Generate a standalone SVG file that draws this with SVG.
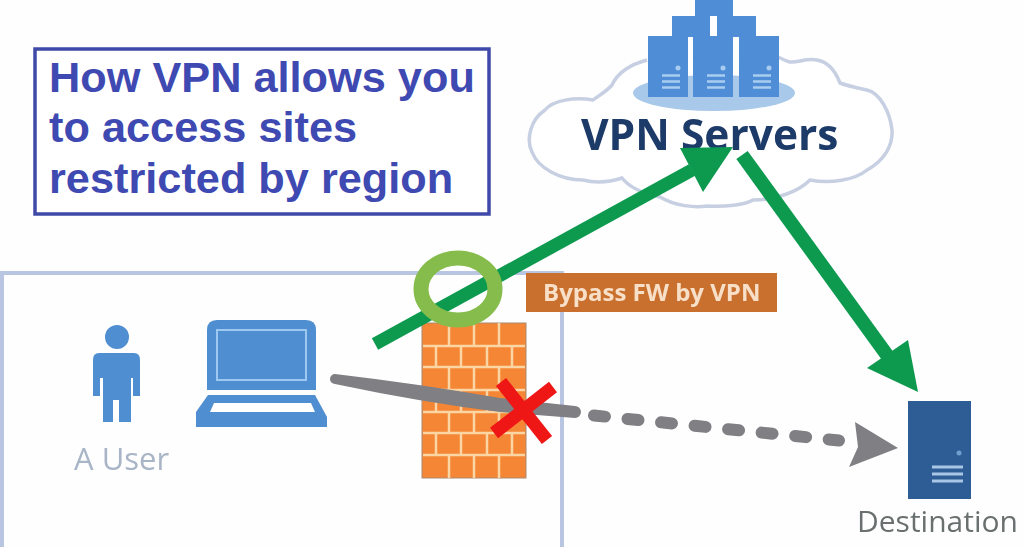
<svg xmlns="http://www.w3.org/2000/svg" width="1024" height="547" viewBox="0 0 1024 547">
<style>
.srv{fill:#4f8ed6}
.srvl{stroke:#a9cdf0;stroke-width:2.5;fill:none}
.srvd{fill:#a9cdf0}
.wall{stroke:#fbd6a4;stroke-width:2.5;fill:none}
.green{stroke:#0b9a50;fill:none}
.greenh{fill:#0b9a50}
.gray{stroke:#7f7f84;fill:none;stroke-linecap:round}
.oss{font-family:"Open Sans","Liberation Sans",sans-serif}
.title{font-family:"Liberation Sans",Arial,sans-serif;font-weight:700;font-size:43.300px;fill:#3f49b2}
.soft{filter:url(#soft)}
</style>
<defs>
<filter id="soft" filterUnits="userSpaceOnUse" x="0" y="0" width="1024" height="547"><feGaussianBlur stdDeviation="0.7"/></filter>
<g id="server">
<rect x="0" y="0" width="40" height="61" class="srv"/>
<circle cx="30" cy="32" r="2.5" class="srvd"/>
<path d="M14 39.500H32M14 45.500H32M14 51.500H32" class="srvl"/>
</g>
</defs>
<rect width="1024" height="547" fill="#fefefe"/>
<g id="user-zone" class="soft">
<path d="M2 547V273H562V547" fill="none" stroke="#b9c6e2" stroke-width="4"/>
</g>
<g id="vpn-servers" class="soft">
<path d="M647 60C632 64 618 72 612 85C606 92 598 96 593 100C575 97 553 100 545 110C530 120 526 140 532 152C538 168 560 180 583 180C595 183 610 182 622 178C630 188 645 194 660 197C675 206 695 208 707 206C725 207 745 205 753 200C775 200 798 192 810 180C830 184 855 180 867 170C885 160 893 145 892 130C890 112 880 93 867 90C858 88 848 86 840 83C835 70 828 62 817 60C806 58 797 63 790 62C786 61 782 59 778 57" fill="#fff" stroke="#c7cfe2" stroke-width="3.500"/>
<ellipse cx="714" cy="93" rx="81" ry="18" fill="#a9c9ea"/>
<rect x="695" y="0" width="38" height="16" class="srv"/>
<rect x="672" y="16" width="38" height="21" class="srv"/>
<rect x="717" y="16" width="39" height="21" class="srv"/>
<use href="#server" x="648" y="36"/>
<use href="#server" x="693" y="36"/>
<use href="#server" x="739" y="36"/>
<text x="581" y="150" class="oss" font-size="42.500" font-weight="700" fill="#1f3a68">VPN Servers</text>
</g>
<g id="user" class="soft">
<circle cx="117" cy="337" r="12" fill="#4f8ed0"/>
<path d="M99 353H134Q140 353 140 360V396H133V378H131V422H119V400H113V422H103V378H100V396H93V360Q93 353 99 353Z" fill="#4f8ed0"/>
<text x="74" y="470" class="oss" font-size="31" fill="#a8b5c6">A User</text>
</g>
<g id="laptop" class="soft">
<path d="M207 390V330Q207 320 217 320H306Q316 320 316 330V390Z" fill="#4f8ed0"/>
<rect x="217" y="330" width="89" height="50" fill="none" stroke="#9cc8f2" stroke-width="2"/>
<path d="M208 395H315L327 417V427H196V412Z" fill="#4f8ed0"/>
<path d="M214 403H311L315 412H210Z" fill="#fff"/>
</g>
<g id="firewall" class="soft">
<rect x="422" y="323" width="104" height="155" fill="#f58634" stroke="#a88a70" stroke-width="1"/>
<path class="wall" d="M423 346H525M423 367H525M423 390H525M423 412H525M423 433H525M423 455H525"/>
<path class="wall" d="M449 323V346M474 323V346M499 323V346M436 346V367M461 346V367M487 346V367M512 346V367M449 367V390M474 367V390M499 367V390M436 390V412M461 390V412M487 390V412M512 390V412M449 412V433M474 412V433M499 412V433M436 433V455M461 433V455M487 433V455M512 433V455M449 455V478M474 455V478M499 455V478"/>
</g>
<g id="bypass-label" class="soft">
<rect x="526" y="273" width="251" height="39" fill="#c96f2f"/>
<text x="543" y="301" class="oss" font-size="24" font-weight="700" fill="#f8e0c8">Bypass FW by VPN</text>
</g>
<g id="destination" class="soft">
<rect x="908" y="401" width="63" height="98" fill="#2f5c94"/>
<circle cx="959" cy="453" r="2.500" fill="#6f9fd0"/>
<path d="M932 467H963M932 474H963M932 481H963" stroke="#a9c6e6" stroke-width="3" fill="none"/>
<text x="857" y="532" class="oss" font-size="30" fill="#6b7070">Destination</text>
</g>
<g id="connectors" class="soft">
<path class="green" stroke-width="13" d="M375 344L692 170"/>
<path class="greenh" d="M680 148L733 147L703 192Z"/>
<path class="green" stroke-width="14" d="M742 155L892 362"/>
<path class="greenh" d="M867 368L908 340L918 392Z"/>
<path fill="#7f7f84" d="M335 374Q420 384 500 398L575 406A6 6 0 0 1 575 418L500 412Q420 402 335 384A5 5 0 0 1 335 374Z"/>
<path class="gray" stroke-width="12" stroke-dasharray="11 22.700" d="M594 415.500L839 440.500"/>
<path fill="#7f7f84" d="M855 422L898 448L849 467L858 447Z"/>
</g>
<g id="bypass-ring" class="soft">
<ellipse cx="458" cy="289" rx="37" ry="31" fill="none" stroke="#86bc4c" stroke-width="15"/>
</g>
<g id="blocked-mark" class="soft">
<path d="M501 382L547 440M553 387L494 433" stroke="#ef1518" stroke-width="13" fill="none"/>
</g>
<g id="title">
<rect x="35" y="49" width="454" height="165" fill="#fff" stroke="#3f49a8" stroke-width="3.500"/>
<text x="49" y="92" class="title">How VPN allows you</text>
<text x="49" y="142" class="title">to access sites</text>
<text x="49" y="193" class="title">restricted by region</text>
</g>
</svg>
